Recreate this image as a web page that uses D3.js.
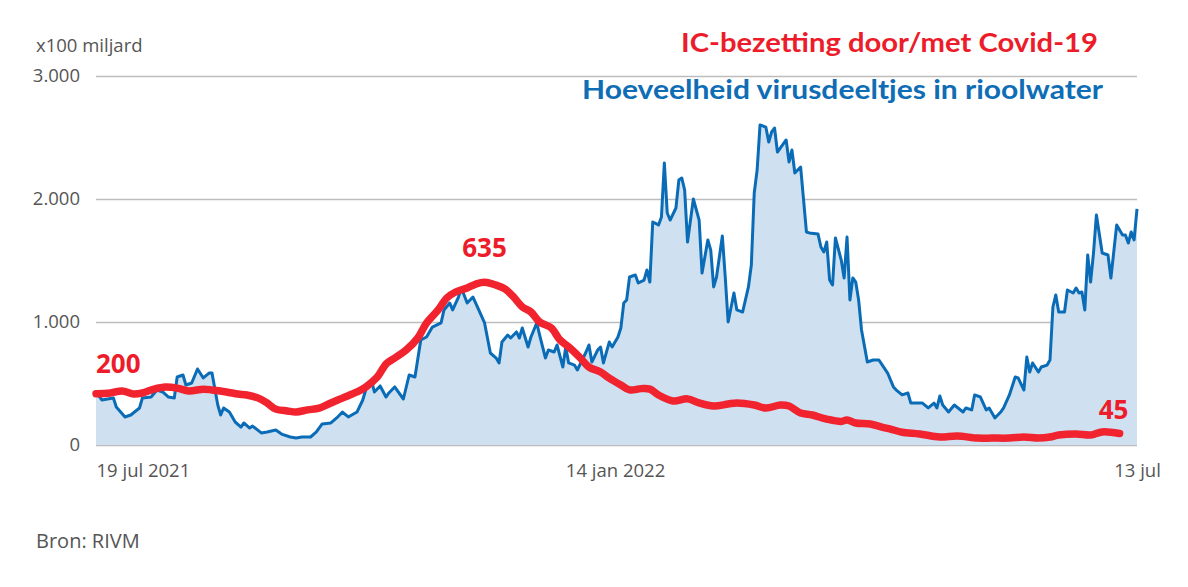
<!DOCTYPE html>
<html><head><meta charset="utf-8">
<script src="https://cdn.jsdelivr.net/npm/d3@7"></script>
<style>
html,body{margin:0;padding:0;background:#fff;}
svg{display:block;}
</style></head>
<body>
<svg id="chart" width="1188" height="587"></svg>
<script>
// ---- DATA ----
const yTickValues = [0, 1000, 2000, 3000];
const xTickDates = ["2021-07-19", "2022-01-14", "2022-07-13"];
const xTickLabels = ["19 jul 2021", "14 jan 2022", "13 jul"];
const yUnitLabel = "x100 miljard";
const titleRed = "IC-bezetting door/met Covid-19";
const titleBlue = "Hoeveelheid virusdeeltjes in rioolwater";
const sourceLabel = "Bron: RIVM";
const redMax = 1440; // red series scale that corresponds to 3.000 on the left axis

const blueSeries = [
["2021-07-19",433],["2021-07-21",366],["2021-07-25",382],["2021-07-26",309],["2021-07-29",228],["2021-07-31",244],
["2021-08-03",301],["2021-08-04",382],["2021-08-07",390],["2021-08-09",447],["2021-08-11",431],["2021-08-13",390],
["2021-08-15",382],["2021-08-16",553],["2021-08-18",569],["2021-08-19",488],["2021-08-21",504],["2021-08-23",618],
["2021-08-25",545],["2021-08-27",585],["2021-08-28",585],["2021-08-30",325],["2021-08-31",244],["2021-09-01",301],
["2021-09-03",268],["2021-09-05",187],["2021-09-07",146],["2021-09-08",179],["2021-09-10",138],["2021-09-11",154],
["2021-09-14",98],["2021-09-16",106],["2021-09-19",122],["2021-09-21",89],["2021-09-24",65],["2021-09-26",57],
["2021-09-28",65],["2021-10-01",65],["2021-10-03",106],["2021-10-05",171],["2021-10-08",179],["2021-10-10",220],
["2021-10-12",268],["2021-10-14",228],["2021-10-17",268],["2021-10-19",366],["2021-10-20",447],["2021-10-22",528],
["2021-10-23",431],["2021-10-25",480],["2021-10-27",390],["2021-10-28",423],["2021-10-30",472],["2021-11-02",374],
["2021-11-04",569],["2021-11-06",553],["2021-11-08",854],["2021-11-10",878],["2021-11-12",959],["2021-11-15",992],
["2021-11-16",1098],["2021-11-18",1154],["2021-11-19",1098],["2021-11-21",1203],["2021-11-22",1276],["2021-11-24",1154],
["2021-11-26",1203],["2021-11-28",1098],["2021-11-30",992],["2021-12-02",748],["2021-12-04",707],["2021-12-05",667],
["2021-12-06",837],["2021-12-08",894],["2021-12-09",870],["2021-12-11",919],["2021-12-12",870],["2021-12-13",951],
["2021-12-15",797],["2021-12-16",878],["2021-12-18",992],["2021-12-19",894],["2021-12-21",707],["2021-12-22",772],
["2021-12-24",756],["2021-12-25",813],["2021-12-27",634],["2021-12-28",797],["2021-12-29",667],["2021-12-31",650],
["2022-01-01",610],["2022-01-03",707],["2022-01-04",756],["2022-01-05",813],["2022-01-06",675],["2022-01-08",772],
["2022-01-09",797],["2022-01-10",667],["2022-01-12",837],["2022-01-13",797],["2022-01-15",878],["2022-01-16",951],
["2022-01-17",1154],["2022-01-18",1179],["2022-01-19",1366],["2022-01-21",1382],["2022-01-22",1317],["2022-01-24",1341],
["2022-01-25",1423],["2022-01-26",1325],["2022-01-27",1813],["2022-01-29",1789],["2022-01-30",1854],["2022-01-31",2293],
["2022-02-01",1886],["2022-02-02",1829],["2022-02-04",1927],["2022-02-05",2154],["2022-02-06",2171],["2022-02-07",2073],
["2022-02-08",1650],["2022-02-10",2000],["2022-02-12",1829],["2022-02-13",1398],["2022-02-15",1667],["2022-02-16",1585],
["2022-02-17",1285],["2022-02-18",1366],["2022-02-20",1699],["2022-02-21",1366],["2022-02-22",1000],["2022-02-24",1236],
["2022-02-25",1098],["2022-02-27",1081],["2022-03-01",1285],["2022-03-02",1463],["2022-03-03",2049],["2022-03-04",2236],
["2022-03-05",2602],["2022-03-07",2585],["2022-03-08",2463],["2022-03-09",2545],["2022-03-10",2577],["2022-03-11",2382],
["2022-03-14",2480],["2022-03-15",2301],["2022-03-16",2398],["2022-03-17",2211],["2022-03-19",2260],["2022-03-21",1732],
["2022-03-22",1724],["2022-03-25",1715],["2022-03-26",1610],["2022-03-27",1569],["2022-03-28",1650],["2022-03-29",1341],
["2022-03-30",1301],["2022-03-31",1683],["2022-04-02",1504],["2022-04-03",1358],["2022-04-04",1691],["2022-04-05",1179],
["2022-04-06",1358],["2022-04-07",1325],["2022-04-08",1179],["2022-04-09",935],["2022-04-11",675],["2022-04-13",691],
["2022-04-15",691],["2022-04-18",585],["2022-04-20",472],["2022-04-21",447],["2022-04-23",407],["2022-04-25",423],
["2022-04-26",341],["2022-04-30",341],["2022-05-02",301],["2022-05-04",341],["2022-05-05",301],["2022-05-06",398],
["2022-05-07",325],["2022-05-09",268],["2022-05-11",325],["2022-05-14",268],["2022-05-15",301],["2022-05-17",285],
["2022-05-18",407],["2022-05-20",390],["2022-05-22",285],["2022-05-23",301],["2022-05-25",220],["2022-05-27",268],
["2022-05-28",301],["2022-05-30",407],["2022-06-01",553],["2022-06-02",545],["2022-06-04",447],["2022-06-05",715],
["2022-06-06",593],["2022-06-07",667],["2022-06-09",593],["2022-06-10",634],["2022-06-12",650],["2022-06-13",691],
["2022-06-14",1122],["2022-06-15",1220],["2022-06-16",1081],["2022-06-18",1081],["2022-06-19",1260],["2022-06-21",1236],
["2022-06-22",1276],["2022-06-23",1236],["2022-06-24",1244],["2022-06-25",1098],["2022-06-26",1545],["2022-06-27",1325],
["2022-06-28",1561],["2022-06-29",1870],["2022-07-01",1561],["2022-07-03",1545],["2022-07-04",1358],["2022-07-06",1789],
["2022-07-08",1707],["2022-07-09",1707],["2022-07-10",1642],["2022-07-11",1732],["2022-07-12",1667],["2022-07-13",1919]
];

const redSeries = [
["2021-07-19",200],["2021-07-24",203],["2021-07-28",211],["2021-08-01",199],["2021-08-04",203],["2021-08-08",218],
["2021-08-12",226],["2021-08-16",222],["2021-08-20",211],["2021-08-25",218],["2021-08-28",215],["2021-09-02",207],
["2021-09-06",199],["2021-09-09",195],["2021-09-13",183],["2021-09-16",164],["2021-09-19",140],["2021-09-23",133],
["2021-09-26",129],["2021-09-30",137],["2021-10-04",144],["2021-10-08",164],["2021-10-12",183],["2021-10-17",207],
["2021-10-20",226],["2021-10-24",265],["2021-10-27",316],["2021-10-29",332],["2021-11-03",371],["2021-11-07",418],
["2021-11-10",476],["2021-11-14",527],["2021-11-17",574],["2021-11-20",597],["2021-11-24",613],["2021-11-27",628],
["2021-11-30",635],["2021-12-04",624],["2021-12-07",609],["2021-12-10",578],["2021-12-13",539],["2021-12-16",519],
["2021-12-19",480],["2021-12-23",457],["2021-12-26",410],["2021-12-29",383],["2022-01-02",340],["2022-01-05",304],
["2022-01-09",285],["2022-01-12",261],["2022-01-16",234],["2022-01-19",215],["2022-01-23",220],["2022-01-26",218],
["2022-01-29",195],["2022-02-03",172],["2022-02-08",180],["2022-02-12",164],["2022-02-17",152],["2022-02-22",160],
["2022-02-25",164],["2022-03-03",156],["2022-03-07",144],["2022-03-12",156],["2022-03-15",152],["2022-03-19",125],
["2022-03-23",117],["2022-03-28",101],["2022-04-02",92],["2022-04-04",98],["2022-04-07",86],["2022-04-12",82],
["2022-04-16",70],["2022-04-19",62],["2022-04-23",50],["2022-04-29",43],["2022-05-06",31],["2022-05-12",35],
["2022-05-19",27],["2022-05-24",27],["2022-05-30",27],["2022-06-04",31],["2022-06-09",27],["2022-06-13",31],
["2022-06-16",39],["2022-06-22",43],["2022-06-27",39],["2022-07-01",51],["2022-07-07",45]
];

// value labels on the red series: [date, value]
const redLabels = [["2021-07-19",200],["2021-11-30",635],["2022-07-07",45]];

// ---- CHART ----
(function () {
const parse = d3.timeParse("%Y-%m-%d");
const blue = blueSeries.map(d => ({date: parse(d[0]), value: d[1]}));
const red = redSeries.map(d => ({date: parse(d[0]), value: d[1]}));

const svg = d3.select("#chart");
const mLeft = 96, mRight = 1137, mTop = 76, mBottom = 445;

const x = d3.scaleTime().domain([parse(xTickDates[0]), parse(xTickDates[2])]).range([mLeft, mRight]);
const y = d3.scaleLinear().domain([0, 3000]).range([mBottom, mTop]);
const yRed = d3.scaleLinear().domain([0, redMax]).range([mBottom, mTop]);

const nl = d3.formatLocale({decimal: ",", thousands: ".", grouping: [3], currency: ["€", ""]});
const fmt = nl.format(",d");

const grey = "#555";
const font = "'Open Sans', 'Noto Sans', sans-serif";

// gridlines + y axis
const yAxis = d3.axisLeft(y).tickValues(yTickValues).tickFormat(fmt).tickSize(-(mRight - mLeft)).tickPadding(16);
const gy = svg.append("g").attr("transform", `translate(${mLeft},0)`).call(yAxis);
gy.select(".domain").remove();
gy.selectAll(".tick line").attr("stroke", "#bdbdbd").attr("stroke-width", 1.5);
gy.selectAll(".tick text").attr("fill", grey).attr("font-family", font).attr("font-size", 18.5);

// area + blue line
const area = d3.area().x(d => x(d.date)).y0(y(0)).y1(d => y(d.value));
svg.append("path").datum(blue).attr("d", area).attr("fill", "#cfe1f1");
const line = d3.line().x(d => x(d.date)).y(d => y(d.value));
svg.append("path").datum(blue).attr("d", line).attr("fill", "none")
  .attr("stroke", "#0a6cb6").attr("stroke-width", 3).attr("stroke-linejoin", "round");

// red line
const redLine = d3.line().x(d => x(d.date)).y(d => yRed(d.value)).curve(d3.curveCatmullRom.alpha(0.5));
svg.append("path").datum(red).attr("d", redLine).attr("fill", "none")
  .attr("stroke", "#f0232e").attr("stroke-width", 7.5).attr("stroke-linejoin", "round").attr("stroke-linecap", "round");

// x axis
const xAxis = d3.axisBottom(x).tickValues(xTickDates.map(parse))
  .tickFormat((d, i) => xTickLabels[i]).tickSize(0).tickPadding(19);
const gx = svg.append("g").attr("transform", `translate(0,${mBottom})`).call(xAxis);
gx.select(".domain").remove();
gx.selectAll(".tick text").attr("fill", grey).attr("font-family", font).attr("font-size", 18.5)
  .attr("text-anchor", (d, i) => i === 0 ? "start" : "middle");

// unit label
svg.append("text").attr("x", 36).attr("y", 52).text(yUnitLabel)
  .attr("fill", grey).attr("font-family", font).attr("font-size", 18.5);

// titles
svg.append("text").attr("x", 681).attr("y", 52).text(titleRed)
  .attr("fill", "#ec1c2a").attr("font-family", "Lato, 'Open Sans', sans-serif").attr("font-weight", "bold")
  .attr("font-size", 27).attr("textLength", 417).attr("lengthAdjust", "spacingAndGlyphs");
svg.append("text").attr("x", 582).attr("y", 99).text(titleBlue)
  .attr("fill", "#0e6db5").attr("font-family", "Lato, 'Open Sans', sans-serif").attr("font-weight", "bold")
  .attr("font-size", 27).attr("textLength", 521).attr("lengthAdjust", "spacingAndGlyphs");

// value labels on red line
const labelPos = [{dx: 0, dy: -21, anchor: "start"}, {dx: 0, dy: -25, anchor: "middle"}, {dx: -6, dy: -14, anchor: "middle"}];
svg.selectAll(".vlab").data(redLabels).enter().append("text").attr("class", "vlab")
  .attr("x", (d, i) => x(parse(d[0])) + labelPos[i].dx)
  .attr("y", (d, i) => yRed(d[1]) + labelPos[i].dy)
  .attr("text-anchor", (d, i) => labelPos[i].anchor)
  .text(d => d[1])
  .attr("fill", "#ec1c2a").attr("font-family", "'Open Sans', sans-serif").attr("font-weight", "bold").attr("font-size", 26);

// source
svg.append("text").attr("x", 36).attr("y", 548).text(sourceLabel)
  .attr("fill", grey).attr("font-family", font).attr("font-size", 20);
})();
</script>
</body></html>
